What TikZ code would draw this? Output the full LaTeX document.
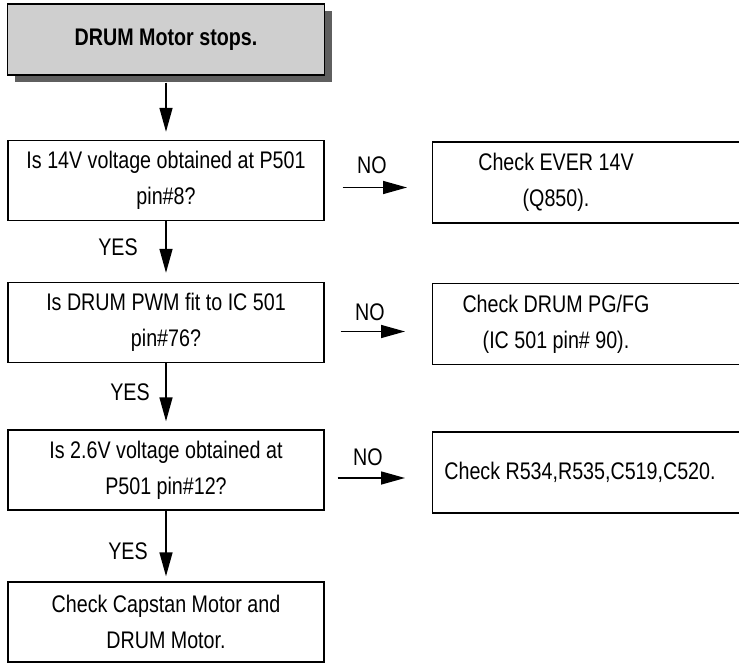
\documentclass[tikz,border=0pt]{standalone}
\usepackage{fontspec}
\setmainfont{Liberation Sans}[FakeStretch=0.82]
\usetikzlibrary{arrows.meta}
\definecolor{titlefill}{HTML}{CFCFCF}
\definecolor{shadowgray}{HTML}{5F5F5F}
\begin{document}
\begin{tikzpicture}[x=1pt,y=-1pt,
  every node/.style={font=\fontsize{24}{36}\selectfont, inner sep=0pt},
  qbox/.style={draw=black, line width=1.4pt, minimum width=316pt, minimum height=80pt, align=center},
  rbox/.style={draw=black, line width=1.4pt, minimum width=340pt, minimum height=81pt, anchor=west},
  titlebox/.style={draw=black, line width=1.4pt, fill=titlefill, minimum width=317pt, minimum height=71pt, font=\bfseries\fontsize{24}{36}\selectfont},
  txt/.style={align=center},
  lbl/.style={},
  arr/.style={-{Triangle[length=24pt,width=13pt]}, line width=1.5pt}
]
\useasboundingbox (0,0) rectangle (739,663);
\clip (0,0) rectangle (739,663);
% title with shadow
\fill[shadowgray] (15,11) rectangle (332,82);
\node[titlebox] (start) at (166,39.5) {DRUM Motor stops.};
% question boxes
\node[qbox] (q1) at (166,180.5) {Is 14V voltage obtained at P501\\pin\#8?};
\node[qbox] (q2) at (166,322.5) {Is DRUM PWM fit to IC 501\\pin\#76?};
\node[qbox] (q3) at (166,470) {Is 2.6V voltage obtained at\\P501 pin\#12?};
\node[qbox] (q4) at (166,622) {Check Capstan Motor and\\DRUM Motor.};
% right boxes
\node[rbox] (r1) at (432,182.5) {};
\node[rbox] (r2) at (432,324) {};
\node[rbox] (r3) at (432,472.5) {};
\node[txt] (r1t) at (556,182.5) {Check EVER 14V\\(Q850).};
\node[txt] (r2t) at (556,324) {Check DRUM PG/FG\\(IC 501 pin\# 90).};
\node[txt] (r3t) at (580,472.5) {Check R534,R535,C519,C520.};
% vertical arrows
\draw[arr, shorten <=7pt, shorten >=8pt] (start.south) -- (q1.north);
\draw[arr, shorten >=9pt] (q1.south) -- (q2.north);
\draw[arr, shorten >=8pt] (q2.south) -- (q3.north);
\draw[arr, shorten >=5pt] (q3.south) -- (q4.north);
\node[lbl] (y1) at (118,247) {YES};
\node[lbl] (y2) at (130,392) {YES};
\node[lbl] (y3) at (128,551) {YES};
% horizontal arrows
\draw[arr, shorten <=18pt, shorten >=25pt] ([yshift=-7pt]q1.east) -- ([yshift=-7pt]q1.east -| r1.west);
\draw[arr, shorten <=16pt, shorten >=27pt] ([yshift=-9pt]q2.east) -- ([yshift=-9pt]q2.east -| r2.west);
\draw[arr, shorten <=13pt, shorten >=27pt] ([yshift=-8pt]q3.east) -- ([yshift=-8pt]q3.east -| r3.west);
\node[lbl] (n1) at (372,165) {NO};
\node[lbl] (n2) at (370,312) {NO};
\node[lbl] (n3) at (368,457) {NO};
\end{tikzpicture}
\end{document}
